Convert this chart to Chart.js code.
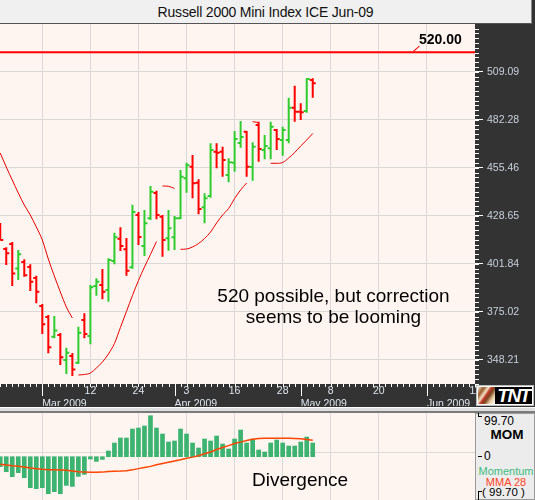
<!DOCTYPE html>
<html>
<head>
<meta charset="utf-8">
<title>Russell 2000 Mini Index ICE Jun-09</title>
<script src="https://cdn.jsdelivr.net/npm/chart.js@4.4.1/dist/chart.umd.min.js"></script>
<style>
  html, body { margin:0; padding:0; }
  body { width:535px; height:500px; position:relative; overflow:hidden; background:#333; font-family:'Liberation Sans', Arial, sans-serif; }
  .abs { position:absolute; }
  #title { left:0; top:0; width:532px; height:24px; box-sizing:border-box; padding-top:2px; background:#f0f0f0; border-bottom:1px solid #555; border-right:1px solid #888; text-align:center; font-size:14px; letter-spacing:-0.2px; line-height:21px; color:#111; }
  #priceBox { left:0; top:24px; width:535px; height:382px; }
  #momBox { left:0; top:413px; width:535px; height:87px; }
  #sep { left:0; top:407px; width:535px; height:6px; box-sizing:border-box; background:#dedede; border-top:1px solid #fdfdfd; border-bottom:2px solid #7a7a7a; }
  #lvl { left:419px; top:31px; font-weight:bold; font-size:14px; line-height:16px; color:#000; }
  #lead { left:413px; top:51px; width:8px; height:0; border-top:1.5px solid #ff0000; transform:rotate(-40deg); transform-origin:0 0; }
  #note { left:200px; top:285px; width:267px; text-align:center; font-size:19px; line-height:21px; color:#000; }
  #divg { left:252px; top:469px; font-size:19px; line-height:22px; color:#000; }
  #logo { left:476px; top:385px; width:58px; height:21px; box-sizing:border-box; background:#fff; border:1px solid #bbb; overflow:hidden; }
  #logoPic { left:1px; top:1px; width:17px; height:17px; background:linear-gradient(125deg,#f2e6d6 0%,#9a5a2c 22%,#f4e2c4 38%,#c0392b 48%,#7a4420 60%,#e9cfa6 78%,#fff 100%); }
  #logoTxt { left:18px; top:1px; width:37px; height:17px; background:#000; color:#fff; font-weight:bold; font-style:italic; font-size:19px; line-height:17px; text-align:center; letter-spacing:-1.5px; overflow:hidden; }
  #side { left:475px; top:413px; width:60px; height:87px; box-sizing:border-box; background:#ececec; border:1px solid #9a9a9a; }
  .sideTxt { position:absolute; white-space:nowrap; }
</style>
</head>
<body>
<div id="title" class="abs">Russell 2000 Mini Index ICE Jun-09</div>
<div id="priceBox" class="abs"><canvas id="price" width="535" height="382"></canvas></div>
<div id="sep" class="abs"></div>
<div id="momBox" class="abs"><canvas id="mom" width="535" height="87"></canvas></div>
<div id="lvl" class="abs">520.00</div>
<div id="lead" class="abs"></div>
<div id="note" class="abs">520 possible, but correction<br>seems to be looming</div>
<div id="divg" class="abs">Divergence</div>
<div id="logo" class="abs"><div id="logoPic" class="abs"></div><div id="logoTxt" class="abs">TNT</div></div>
<div id="side" class="abs"></div>
<div class="abs" style="left:478px;top:413px;width:3px;height:3px;border-left:1px solid #000;border-bottom:1px solid #000;"></div>
<div class="abs sideTxt" style="left:484px;top:414px;font-size:12px;line-height:14px;color:#000;">99.70</div>
<div class="abs sideTxt" style="left:477px;top:427px;width:60px;text-align:center;font-size:13.5px;font-weight:bold;line-height:16px;color:#000;">MOM</div>
<div class="abs" style="left:478px;top:456px;width:4px;height:0;border-top:1px solid #000;"></div>
<div class="abs sideTxt" style="left:484px;top:449px;font-size:12px;line-height:14px;color:#000;">0</div>
<div class="abs sideTxt" style="left:476px;top:464px;width:60px;text-align:center;font-size:11px;line-height:14px;color:#3dbb80;">Momentum</div>
<div class="abs sideTxt" style="left:476px;top:475px;width:60px;text-align:center;font-size:11px;line-height:14px;color:#ff4422;">MMA 28</div>
<div class="abs" style="left:478px;top:491px;width:3px;height:9px;border-left:1px solid #000;border-top:1px solid #000;"></div>
<div class="abs sideTxt" style="left:482px;top:485px;font-size:11.5px;line-height:14px;color:#000;">( 99.70 )</div>

<script>
// ---------------- data ----------------
const sessions = ['Feb 19','Feb 20','Feb 23','Feb 24','Feb 25','Feb 26','Feb 27',
  'Mar 2','Mar 3','Mar 4','Mar 5','Mar 6','Mar 9','Mar 10','Mar 11','Mar 12','Mar 13','Mar 16','Mar 17','Mar 18','Mar 19','Mar 20','Mar 23','Mar 24','Mar 25','Mar 26','Mar 27','Mar 30','Mar 31',
  'Apr 1','Apr 2','Apr 3','Apr 6','Apr 7','Apr 8','Apr 9','Apr 13','Apr 14','Apr 15','Apr 16','Apr 17','Apr 20','Apr 21','Apr 22','Apr 23','Apr 24','Apr 27','Apr 28','Apr 29','Apr 30',
  'May 1','May 4','May 5'];
const firstSession = -7; // trading-day index of Feb 19 (Mar 2 = 0)

const opens  = [421.79,410.06,412.85,399.17,402.80,400.01,393.86,378.23,372.08,361.08,362.02,348.06,350.29,346.55,370.40,361.47,389.39,389.95,387.16,403.36,415.81,409.89,399.84,429.05,411.73,427.20,441.34,428.10,416.04,416.60,427.20,449.55,456.03,447.09,433.35,439.66,464.41,464.41,451.39,458.26,469.27,475.58,455.86,479.32,465.35,466.30,476.53,470.94,470.94,488.98,486.75,487.14,504.45];
const highs  = [424.58,411.01,413.97,409.50,404.31,401.51,395.15,379.34,373.20,372.64,363.14,354.93,351.97,366.66,374.14,389.95,393.69,398.89,404.87,419.17,422.18,416.20,434.80,430.72,431.84,445.25,442.62,429.05,431.84,428.49,454.18,458.26,462.56,448.99,441.17,469.10,469.10,467.20,460.72,475.97,481.55,475.97,469.66,481.16,473.73,481.16,477.08,478.37,494.57,501.27,491.44,505.40,505.40];
const lows   = [415.09,401.12,389.39,392.75,394.59,386.60,379.73,362.58,351.80,360.19,345.27,340.24,339.13,345.83,360.19,356.83,383.98,381.96,380.62,401.51,408.94,395.15,399.06,412.29,406.15,426.26,426.65,405.76,409.11,409.50,426.65,441.50,438.38,429.44,424.41,438.71,455.13,450.44,447.31,453.24,466.64,450.44,448.21,458.82,460.16,460.16,465.35,462.17,469.10,481.16,482.11,486.19,494.57];
const closes = [415.09,407.66,396.38,407.10,395.37,391.80,386.21,368.00,355.15,364.54,349.57,352.14,342.76,363.31,362.58,388.67,391.80,386.21,403.92,416.60,411.73,397.94,430.72,416.76,424.41,442.06,429.05,415.09,421.62,427.20,450.44,456.81,446.76,432.40,438.38,465.35,463.85,459.77,458.48,471.50,472.62,456.03,467.20,465.91,467.59,478.37,471.50,476.53,488.98,486.75,486.41,505.01,502.61];

// trailing stop line (null = not drawn); new segments start at these session indices
const stopLine = [463.68,455.86,448.60,441.34,434.64,429.05,422.35,415.09,404.47,394.98,386.05,377.67,371.52,
  339.69,339.97,340.80,343.60,346.95,351.42,357.28,366.22,375.16,384.09,392.47,400.01,406.99,414.25,
  445.25,445.08,443.85,
  409.89,410.06,411.18,413.14,415.93,419.56,424.59,429.05,432.68,438.27,443.02,446.93,
  481.16,480.72,
  null,
  457.93,457.93,458.38,460.89,463.96,467.59,470.94,474.57];
const stopSegmentStarts = [6, 20, 23, 35, 38];

const targetLevel = 520.00;
const priceTicks = [348.21, 375.02, 401.84, 428.65, 455.46, 482.28, 509.09];

const momentum = [-24.3,-36.5,-48.6,-38.9,-51.1,-75.4,-77.8,-75.4,-90.0,-85.1,-90.0,-69.8,-72.2,-47.9,-43.0,-5.6,-11.4,-6.6,
  13.9,33.3,45.5,45.5,67.4,69.8,74.7,99.7,69.8,55.2,35.7,38.2,67.4,55.2,33.3,21.2,43.0,38.2,50.3,30.9,18.7,43.0,64.9,33.3,43.0,16.3,11.4,33.3,40.6,33.3,26.0,26.0,35.7,47.9,33.3];
const mma28 = [-18.5,-20,-22,-23.5,-25,-27.5,-29,-30.5,-31.5,-32,-32.5,-33,-34.5,-36.5,-37.5,-38,-38,-37.5,-36,-35.5,-35,-34,-32,-29,-26,-23.5,-19.5,
  -16.5,-13.5,-10.5,-7.5,-4,-1,2.5,7,11.5,17.5,22.5,27,32,35.5,39.5,42.5,44,44.7,44.7,44.7,44.7,44.7,44.5,43.5,42,40];
const momGridLines = [10];

// date axis (trading-day index, weekdays projected into the future)
const gridIdx   = [0, 8, 16, 24, 32, 40, 48, 56, 64, 72];
const dayLabels = ['', '12', '24', '3', '16', '28', '8', '20', '', '11'];
const monthIdx    = [0, 22, 43, 64];
const monthLabels = ['Mar 2009', 'Apr 2009', 'May 2009', 'Jun 2009'];

// ---------------- view settings ----------------
const X_MIN = -7.04, X_MAX = 72.0;
const Y_MIN = 334.66, Y_MAX = 535.73;
const TICK = 0.5;
const GREEN = '#2ecc2e', RED = '#ff0000', GRID = '#d9d9d9', AXIS_TXT = '#dfe5ee';

Chart.defaults.font.family = "'Liberation Sans', Arial, sans-serif";

function ohlcPath(up) {
  const pts = [];
  opens.forEach((o, k) => {
    const i = firstSession + k, c = closes[k];
    if ((c >= o) !== up) return;
    pts.push({x:i, y:highs[k]}, {x:i, y:lows[k]}, {x:i, y:null},
             {x:i - TICK, y:o}, {x:i, y:o}, {x:i, y:null},
             {x:i, y:c}, {x:i + TICK, y:c}, {x:i, y:null});
  });
  return pts;
}
function stopPath() {
  const pts = [];
  stopLine.forEach((v, k) => {
    const i = firstSession + k;
    if (stopSegmentStarts.includes(i)) pts.push({x:i - 0.5, y:null});
    pts.push({x:i, y:v});
  });
  return pts;
}

const priceFrame = {
  id: 'priceFrame',
  beforeDraw(chart) {
    const {ctx, chartArea: a, width, height} = chart;
    ctx.save();
    ctx.fillStyle = '#333333';
    ctx.fillRect(0, 0, width, height);
    ctx.fillStyle = '#fff5f0';
    ctx.fillRect(a.left, a.top, a.right - a.left, a.bottom - a.top);
    ctx.restore();
  },
  afterDraw(chart) {
    const {ctx, chartArea: a, scales} = chart;
    const ys = scales.y, xs = scales.x;
    ctx.save();
    ctx.strokeStyle = '#ffffff';
    ctx.lineWidth = 1;
    ctx.beginPath();
    const step = (priceTicks[1] - priceTicks[0]) / 10;
    let v = priceTicks[0] - step * Math.floor((priceTicks[0] - ys.min) / step);
    for (; v <= ys.max; v += step) {
      const py = Math.round(ys.getPixelForValue(v)) + 0.5;
      ctx.moveTo(a.right, py); ctx.lineTo(a.right + 4, py);
    }
    for (let i = Math.ceil(xs.min); i <= Math.floor(xs.max); i++) {
      const px = Math.round(xs.getPixelForValue(i)) + 0.5;
      ctx.moveTo(px, a.bottom); ctx.lineTo(px, a.bottom + 3);
    }
    monthIdx.forEach(i => {
      const px = Math.round(xs.getPixelForValue(i)) + 0.5;
      ctx.moveTo(px, a.bottom); ctx.lineTo(px, a.bottom + 12);
    });
    ctx.stroke();
    ctx.restore();
  }
};

const lineBase = { pointRadius: 0, pointHoverRadius: 0, fill: false, spanGaps: false, tension: 0 };

new Chart(document.getElementById('price'), {
  type: 'line',
  data: {
    datasets: [
      Object.assign({ label: 'Target', data: [{x: X_MIN, y: targetLevel}, {x: X_MAX, y: targetLevel}], borderColor: RED, borderWidth: 2 }, lineBase),
      Object.assign({}, lineBase, { label: 'Stop', data: stopPath(), borderColor: '#e60000', borderWidth: 1, cubicInterpolationMode: 'monotone' }),
      Object.assign({ label: 'Up', data: ohlcPath(true), borderColor: GREEN, borderWidth: 2 }, lineBase),
      Object.assign({ label: 'Down', data: ohlcPath(false), borderColor: RED, borderWidth: 2 }, lineBase)
    ]
  },
  options: {
    responsive: false, animation: false, devicePixelRatio: 1,
    layout: { padding: 0 },
    plugins: { legend: { display: false }, tooltip: { enabled: false } },
    scales: {
      x: {
        type: 'linear', min: X_MIN, max: X_MAX, offset: false, weight: 0,
        afterBuildTicks: s => { s.ticks = gridIdx.map(v => ({value: v})); },
        afterFit: s => { s.height = 11; s.paddingLeft = 0; s.paddingRight = 0; },
        grid: { color: c => (c.tick && c.tick.value >= X_MAX) ? 'rgba(0,0,0,0)' : GRID, drawTicks: false, offset: false },
        border: { display: false },
        ticks: { autoSkip: false, maxRotation: 0, padding: 1, color: AXIS_TXT, font: { size: 10.5 },
                 callback: (v, i) => dayLabels[i] }
      },
      xm: {
        type: 'linear', position: 'bottom', axis: 'x', min: X_MIN, max: X_MAX, offset: false, weight: 1,
        afterBuildTicks: s => { s.ticks = monthIdx.map(v => ({value: v})); },
        afterFit: s => { s.height = 11; s.paddingLeft = 0; s.paddingRight = 0; },
        grid: { display: false },
        border: { display: false },
        ticks: { autoSkip: false, maxRotation: 0, padding: -5, align: 'start', color: AXIS_TXT, font: { size: 10.5 },
                 callback: (v, i) => monthLabels[i] }
      },
      y: {
        type: 'linear', position: 'right', min: Y_MIN, max: Y_MAX,
        afterBuildTicks: s => { s.ticks = priceTicks.map(v => ({value: v})); },
        afterFit: s => { s.width = 60; s.paddingTop = 0; s.paddingBottom = 0; },
        grid: { color: GRID, tickColor: '#ffffff', tickLength: 8 },
        border: { display: false },
        ticks: { padding: 4, color: '#c9d0dc', font: { size: 10.5 }, callback: v => v.toFixed(2) }
      }
    }
  },
  plugins: [priceFrame]
});

const momFrame = {
  id: 'momFrame',
  beforeDraw(chart) {
    const {ctx, chartArea: a, width, height} = chart;
    ctx.save();
    ctx.fillStyle = '#ececec';
    ctx.fillRect(0, 0, width, height);
    ctx.fillStyle = '#fff5f0';
    ctx.fillRect(a.left, a.top, a.right - a.left, a.bottom - a.top);
    ctx.restore();
  }
};

new Chart(document.getElementById('mom'), {
  type: 'bar',
  data: {
    datasets: [
      { type: 'line', label: 'MMA 28', data: mma28.map((v, k) => ({x: firstSession + k, y: v})),
        borderColor: '#ff4500', borderWidth: 1.5, pointRadius: 0, tension: 0, order: 0 },
      { type: 'bar', label: 'Momentum', data: momentum.map((v, k) => ({x: firstSession + k, y: v})),
        backgroundColor: '#3cb371', barThickness: 4, order: 1 }
    ]
  },
  options: {
    responsive: false, animation: false, devicePixelRatio: 1,
    layout: { padding: 0 },
    plugins: { legend: { display: false }, tooltip: { enabled: false } },
    scales: {
      x: {
        type: 'linear', min: X_MIN, max: X_MAX, offset: false,
        afterBuildTicks: s => { s.ticks = gridIdx.map(v => ({value: v})); },
        afterFit: s => { s.height = 0; s.paddingLeft = 0; s.paddingRight = 0; },
        grid: { color: c => (c.tick && c.tick.value >= X_MAX) ? 'rgba(0,0,0,0)' : GRID, drawTicks: false, offset: false },
        border: { display: false },
        ticks: { display: false }
      },
      y: {
        type: 'linear', position: 'right', min: -105.3, max: 106.3,
        afterBuildTicks: s => { s.ticks = momGridLines.map(v => ({value: v})); },
        afterFit: s => { s.width = 60; s.paddingTop = 0; s.paddingBottom = 0; },
        grid: { color: GRID, drawTicks: false },
        border: { display: false },
        ticks: { display: false }
      }
    }
  },
  plugins: [momFrame]
});
</script>
</body>
</html>
